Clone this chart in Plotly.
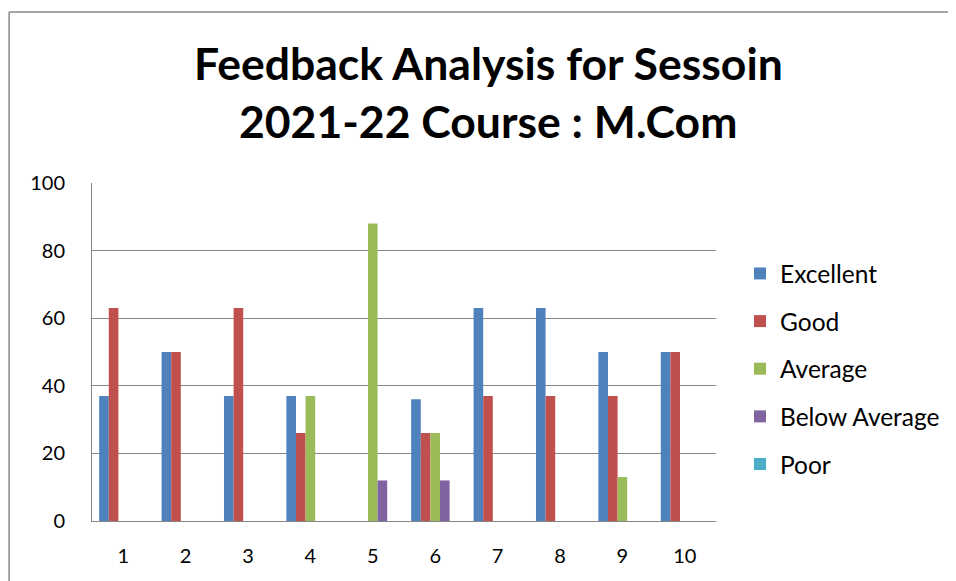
import plotly.graph_objects as go

categories = ["1", "2", "3", "4", "5", "6", "7", "8", "9", "10"]
excellent = [37, 50, 37, 37, 0, 36, 63, 63, 50, 50]
good = [63, 50, 63, 26, 0, 26, 37, 37, 37, 50]
average = [0, 0, 0, 37, 88, 26, 0, 0, 13, 0]
below_average = [0, 0, 0, 0, 12, 12, 0, 0, 0, 0]
poor = [0, 0, 0, 0, 0, 0, 0, 0, 0, 0]
series_names = ["Excellent", "Good", "Average", "Below Average", "Poor"]
series_colors = ["#4F81BD", "#C0504D", "#9BBB59", "#8064A2", "#4BACC6"]
y_ticks = [0, 20, 40, 60, 80, 100]
title_line1 = "Feedback Analysis for Sessoin"
title_line2 = "2021-22 Course : M.Com"

OFF = 8  # page body margin
W, H = 956 - OFF, 581 - OFF
L, R, T, B = 92, 717, 183, 521  # plot area in screen pixels

fig = go.Figure()
for name, vals, col in zip(series_names,
                           [excellent, good, average, below_average, poor],
                           series_colors):
    fig.add_trace(go.Bar(x=categories, y=vals, name=name, marker_color=col,
                         marker_line_width=0, legendgroup=name))

font_family = "Lato, Open Sans, sans-serif"

def py(p):
    return (B - p) / (B - T)

def px(p):
    return (p - L) / (R - L)

fig.update_layout(
    width=W, height=H,
    margin=dict(l=L - OFF, r=956 - R, t=T - OFF, b=581 - B, pad=0),
    paper_bgcolor="white", plot_bgcolor="white",
    barmode="group", bargap=0.23, bargroupgap=0,
    font=dict(family=font_family, size=20, color="black"),
    showlegend=True,
    legend=dict(x=px(740), y=py(251), xanchor="left", yanchor="top",
                font=dict(size=24.5, family=font_family), tracegroupgap=12.8,
                itemwidth=30, bgcolor="rgba(0,0,0,0)"),
    xaxis=dict(type="category", showgrid=False, showline=True, linecolor="#868686",
               linewidth=1, ticks="outside", ticklen=17, tickcolor="rgba(0,0,0,0)",
               tickfont=dict(size=20), range=[-0.5, 9.5]),
    yaxis=dict(range=[0, 100], tickvals=y_ticks, showgrid=True, gridcolor="#868686",
               gridwidth=1, showline=True, linecolor="#868686", linewidth=1,
               ticks="outside", ticklen=22, tickcolor="rgba(0,0,0,0)",
               tickfont=dict(size=20), zeroline=False),
    annotations=[
        dict(text="<b>" + title_line1 + "</b>", xref="paper", yref="paper",
             x=px(489), y=py(62), xanchor="center", yanchor="middle", showarrow=False,
             font=dict(size=44.5, family=font_family, color="black")),
        dict(text="<b>" + title_line2 + "</b>", xref="paper", yref="paper",
             x=px(489), y=py(121), xanchor="center", yanchor="middle", showarrow=False,
             font=dict(size=44.5, family=font_family, color="black")),
    ],
    shapes=[
        dict(type="line", xref="paper", yref="paper", x0=px(9), x1=px(9), y0=py(600), y1=py(12),
             line=dict(color="#888888", width=1.5)),
        dict(type="line", xref="paper", yref="paper", x0=px(9), x1=px(970), y0=py(12), y1=py(12),
             line=dict(color="#888888", width=1.5)),
    ],
)

fig.write_html("out.html")
